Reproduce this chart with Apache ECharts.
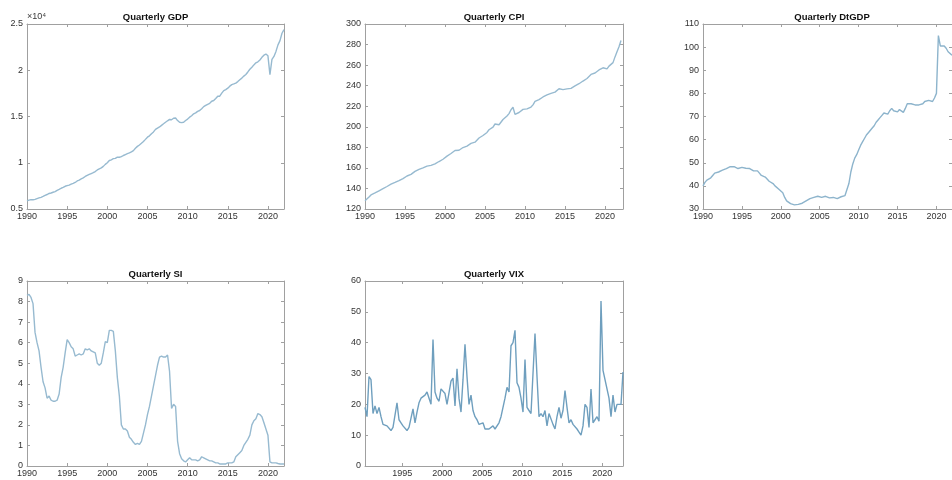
<!DOCTYPE html>
<html>
<head>
<meta charset="utf-8">
<script src="https://cdn.jsdelivr.net/npm/echarts@6/dist/echarts.min.js"></script>
<style>
html,body{margin:0;padding:0;background:#fff;}
#chart{width:952px;height:480px;}
</style>
</head>
<body>
<div id="chart"></div>
<script>
// Quarterly data, 1990Q1 .. 2022Q1
const startYear = 1990;
const gdp = [
5872,5960,6015,6004, 6035,6127,6205,6264, 6364,6471,6567,6680, 6729,6809,6882,7013,
7115,7246,7331,7455, 7522,7581,7684,7772, 7868,8033,8131,8260, 8363,8519,8636,8738,
8833,8926,9046,9218, 9335,9441,9608,9824, 10002,10247,10319,10440, 10471,10598,10598,10661,
10784,10887,10985,11062, 11174,11312,11567,11770, 11923,12112,12305,12527, 12762,12910,13143,13333,
13604,13749,13867,14038, 14209,14383,14535,14681, 14651,14806,14835,14560, 14381,14342,14385,14567,
14721,14926,15080,15291, 15394,15558,15647,15842, 16069,16207,16319,16421, 16648,16728,16953,17193,
17197,17519,17805,17912, 18063,18280,18450,18520, 18612,18775,18968,19149, 19368,19540,19815,20112,
20329,20580,20798,20917, 21112,21398,21632,21747, 21561,19520,21170,21494, 22038,22741,23202,24002,
24386
];
const cpi = [
128.0,129.3,131.6,133.7, 134.8,135.6,136.7,137.7, 138.7,139.8,140.9,141.9, 143.0,144.1,144.8,145.8,
146.7,147.6,148.9,149.6, 150.9,152.1,152.9,153.7, 155.0,156.6,157.3,158.6, 159.6,160.0,160.8,161.7,
162.0,162.5,163.2,163.9, 164.7,166.2,167.2,168.4, 170.1,171.4,172.8,174.0, 175.6,176.9,177.1,177.2,
177.9,179.8,180.6,181.2, 183.1,183.8,184.9,185.0, 186.8,189.1,189.8,191.5, 192.4,194.5,197.1,198.6,
199.7,202.7,203.6,202.0, 203.4,207.1,207.9,210.5, 212.8,216.6,219.0,212.1, 212.2,213.9,215.5,216.9,
217.3,217.4,217.9,219.2, 221.3,224.7,225.9,226.5, 228.2,229.0,230.2,231.0, 231.6,232.5,233.5,233.7,
235.0,237.0,237.5,236.2, 235.0,236.9,237.9,237.4, 237.5,239.8,240.9,241.9, 243.8,244.5,245.4,247.0,
248.9,250.9,251.9,252.3, 252.8,255.3,256.3,257.4, 258.6,256.3,259.0,260.3, 262.4,268.0,273.1,277.9,
284.0
];
const dtgdp = [
40.0,41.5,42.5,43.0, 43.5,44.5,45.5,45.8, 46.0,46.5,46.8,47.2, 47.5,48.0,48.3,48.5,
48.3,47.5,47.5,47.8, 48.0,47.8,47.6,47.8, 47.5,47.0,46.5,46.5, 46.5,45.5,44.5,44.0,
43.8,43.0,42.0,41.5, 41.0,40.0,39.5,38.5, 38.0,37.0,35.0,33.5, 33.0,32.3,31.5,31.8,
31.8,32.0,32.0,32.5, 33.0,33.5,34.0,34.5, 34.8,35.0,35.0,35.5, 35.3,35.0,35.3,35.5,
35.2,34.8,35.0,35.0, 35.2,34.5,35.0,35.3, 34.8,35.8,36.0,41.0, 46.0,49.5,52.0,53.5,
55.5,57.5,59.0,60.5, 62.0,63.0,63.5,65.0, 66.0,67.5,68.5,69.5, 70.5,71.5,71.5,71.0,
72.5,73.5,72.5,72.5, 72.0,73.0,72.5,71.8, 73.5,75.5,75.0,75.5, 76.0,75.0,74.5,75.0,
74.8,75.5,76.5,76.0, 77.0,77.5,76.5,78.0, 80.0,105.0,100.5,100.0, 100.5,99.5,98.0,97.5,
96.5
];
const si = [
8.3,8.35,8.2,7.9, 6.5,6.0,5.6,4.8, 4.1,3.8,3.3,3.4, 3.2,3.15,3.15,3.2,
3.5,4.3,4.8,5.5, 6.15,6.0,5.8,5.7, 5.35,5.4,5.45,5.4, 5.45,5.7,5.65,5.7,
5.6,5.55,5.5,5.0, 4.9,5.0,5.5,6.05, 6.0,6.6,6.6,6.55, 5.6,4.3,3.4,2.0,
1.8,1.8,1.7,1.4, 1.3,1.15,1.05,1.1, 1.05,1.2,1.6,2.0, 2.5,2.9,3.4,3.9,
4.4,4.9,5.3,5.35, 5.3,5.3,5.4,4.6, 2.8,3.0,2.9,1.2, 0.6,0.35,0.25,0.2,
0.3,0.4,0.3,0.3, 0.3,0.25,0.3,0.45, 0.4,0.35,0.3,0.25, 0.25,0.2,0.15,0.15,
0.1,0.1,0.1,0.1, 0.15,0.15,0.15,0.2, 0.45,0.55,0.65,0.75, 1.0,1.15,1.3,1.5,
2.0,2.2,2.3,2.55, 2.5,2.4,2.1,1.8, 1.5,0.2,0.15,0.15, 0.15,0.12,0.1,0.1,
0.1
];
// VIX starts one third into 1990
const vixStart = 1990.33;
const vix = [
19,16,29, 28,17,19.5,17,19,16,13.5,14,13,12.5,11.5,12.5,12, 20.5,
15,14,13,12.5,11.5,12.5,12.5, 18.5, 14,17.5,20.5,22,22,23,24,24,20, 41,
24,22,21,25,24.5,23.5,20,20.5,27.5,28.5, 19.5, 31.5, 22,17.5,28, 39.5,
29,20,23,18,16,15,13.5,13,14,12,11.5,12,11.5,13,12,11.5,14,16,19,22,25.5,24,39,40,44,
27,25.5,22,17.5, 34.5, 19,18,17,16.5, 43,
29,16,17,16,18,13,17,16.5,13.5,12,16,19,15.5,18, 24.5,
19,14,15,13.5,13,12,11,10,13,20,19,12.5,25,14,15,16,14.5, 53.5,
31,28,25,22,16,23,17.5,20,20,20,30.5
];
const yearTicks = [1990,1995,2000,2005,2010,2015,2020];
const vixTicks = [1995,2000,2005,2010,2015,2020];
const titles = ['Quarterly GDP','Quarterly CPI','Quarterly DtGDP','Quarterly SI','Quarterly VIX'];

const step = 0.25;
function toPairs(arr, start){ return arr.map((v,i)=>[start + i*step, v]); }

const panels = [
  {data: toPairs(gdp,startYear), xmin:1990, xmax:2022, xt:yearTicks, ymin:5000, ymax:25000, yi:5000, fmt:v=>String(v/10000), grid:{left:27,top:24,width:257,height:185}, color:'#97bad0'},
  {data: toPairs(cpi,startYear), xmin:1990, xmax:2022.25, xt:yearTicks, ymin:120, ymax:300, yi:20, grid:{left:365,top:24,width:258,height:185}, color:'#97bad0'},
  {data: toPairs(dtgdp,startYear), xmin:1990, xmax:2022, xt:yearTicks, ymin:30, ymax:110, yi:10, grid:{left:703,top:24,width:258,height:185}, color:'#8db4cc'},
  {data: toPairs(si,startYear), xmin:1990, xmax:2022, xt:yearTicks, ymin:0, ymax:9, yi:1, grid:{left:27,top:281,width:257,height:185}, color:'#97bad0'},
  {data: toPairs(vix,vixStart), xmin:1990.33, xmax:2022.58, xt:vixTicks, ymin:0, ymax:60, yi:10, grid:{left:365,top:281,width:258,height:185}, color:'#6f9fbe'}
];

const axisColor = '#a0a0a0';
const labelStyle = {color:'#333333', fontSize:9, fontFamily:'Liberation Sans, Arial, sans-serif'};
const grids=[], xAxes=[], yAxes=[], series=[], graphics=[];
panels.forEach((p,k)=>{
  grids.push(p.grid);
  const tickBase = {show:true, inside:true, length:3, lineStyle:{color:axisColor}};
  xAxes.push({type:'value', gridIndex:k, position:'bottom', min:p.xmin, max:p.xmax,
    axisLine:{show:true, onZero:false, lineStyle:{color:axisColor, width:1}},
    axisTick:Object.assign({customValues:p.xt}, tickBase),
    axisLabel:Object.assign({customValues:p.xt, margin:3, formatter:v=>String(Math.round(v))}, labelStyle),
    splitLine:{show:false}});
  xAxes.push({type:'value', gridIndex:k, position:'top', min:p.xmin, max:p.xmax,
    axisLine:{show:true, onZero:false, lineStyle:{color:axisColor, width:1}},
    axisTick:Object.assign({customValues:p.xt}, tickBase),
    axisLabel:{show:false}, splitLine:{show:false}});
  const yl = Object.assign({margin:4}, labelStyle);
  if (p.fmt) yl.formatter = p.fmt;
  const yLeft = {type:'value', gridIndex:k, position:'left', min:p.ymin, max:p.ymax, interval:p.yi,
    axisLine:{show:true, onZero:false, lineStyle:{color:axisColor, width:1}},
    axisTick:tickBase, axisLabel:yl, splitLine:{show:false}};
  if (k===0){
    yLeft.name = '×10⁴';
    yLeft.nameLocation = 'end';
    yLeft.nameGap = 3;
    yLeft.nameTextStyle = {color:'#3a3a3a', fontSize:9, align:'left', fontFamily:'Liberation Sans, Arial, sans-serif', padding:[0,0,0,0]};
  }
  yAxes.push(yLeft);
  yAxes.push({type:'value', gridIndex:k, position:'right', min:p.ymin, max:p.ymax, interval:p.yi,
    axisLine:{show:true, onZero:false, lineStyle:{color:axisColor, width:1}},
    axisTick:tickBase, axisLabel:{show:false}, splitLine:{show:false}});
  series.push({type:'line', xAxisIndex:2*k, yAxisIndex:2*k, data:p.data, showSymbol:false,
    lineStyle:{color:p.color, width:1.4}, itemStyle:{color:p.color}, animation:false, clip:true});
  graphics.push({type:'text', x:p.grid.left + p.grid.width/2, y:p.grid.top - 7,
    style:{text:titles[k], align:'center', verticalAlign:'middle', fill:'#111',
      font:'bold 9.5px "Liberation Sans", Arial, sans-serif'}});
});

const chart = echarts.init(document.getElementById('chart'), null, {renderer:'canvas'});
chart.setOption({
  animation:false,
  backgroundColor:'#ffffff',
  grid:grids, xAxis:xAxes, yAxis:yAxes, series:series, graphic:graphics
});
</script>
</body>
</html>
